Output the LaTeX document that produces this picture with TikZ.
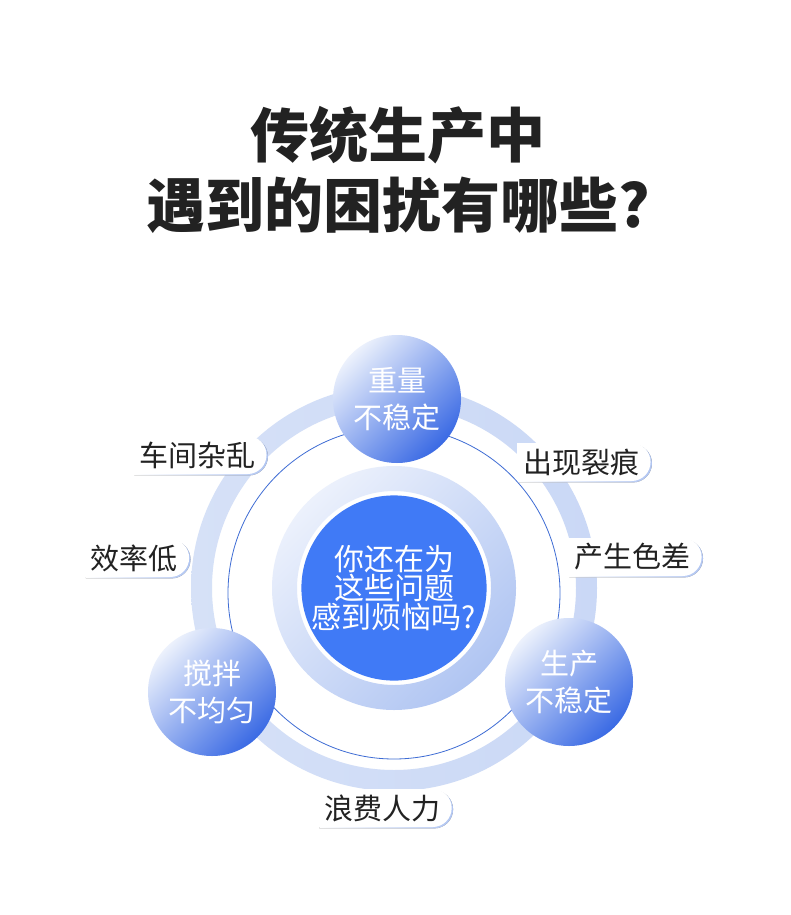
\documentclass[tikz,border=0pt]{standalone}
\usepackage{fontspec}
\setmainfont{Noto Sans CJK SC}
\usepackage{xcolor}
\usetikzlibrary{shapes.misc, shadows}

\definecolor{coreblue}{RGB}{64,122,246}
\definecolor{deepblue}{RGB}{58,106,228}
\definecolor{paleblue}{RGB}{214,225,247}
\definecolor{bandblue}{RGB}{202,216,246}
\definecolor{mistblue}{RGB}{236,241,252}
\definecolor{ringblue}{RGB}{176,197,242}
\definecolor{lineblue}{RGB}{62,108,212}
\definecolor{inkgray}{RGB}{34,34,34}

\tikzset{
  issue/.style={circle, minimum size=128pt, inner sep=0pt,
    top color=mistblue, bottom color=deepblue, shading angle=45,
    text=white, align=center, font=\fontsize{29}{37}\selectfont},
  tag/.style={rounded rectangle, rounded rectangle left arc=none,
    fill=white, minimum height=38pt, inner xsep=6pt, text=inkgray,
    font=\fontsize{29}{30}\selectfont,
    drop shadow={shadow xshift=1.4pt, shadow yshift=-1.4pt, opacity=1,
      left color=white, right color=ringblue}},
}

\begin{document}
\begin{tikzpicture}[x=1pt, y=-1pt]
  \useasboundingbox[fill=white] (0,0) rectangle (790,915);

  % title
  \node[text=inkgray, align=center, font=\fontsize{59}{70}\selectfont\bfseries] (title) at (398,170)
    {传统生产中\\遇到的困扰有哪些?};

  % rings
  \path[left color=paleblue, right color=bandblue, even odd rule]
    (394,588) circle[radius=203] circle[radius=182];
  \draw[lineblue, line width=0.8pt] (394,593) circle[radius=166];
  \path[top color=mistblue, bottom color=ringblue, shading angle=45, even odd rule]
    (394,588) circle[radius=122] circle[radius=97];
  \node[circle, minimum size=180pt, inner sep=0pt, fill=coreblue, text=white, align=center,
    font=\fontsize{30}{29}\selectfont] (core) at (394,588)
    {你还在为\\这些问题\\感到烦恼吗?};

  % problems
  \node[issue] (weight) at (397,399) {重量\\不稳定};
  \node[issue] (mixing) at (212,692) {搅拌\\不均匀};
  \node[issue] (output) at (569,682) {生产\\不稳定};

  % tags
  \node[tag] (mess) at (197,455) {车间杂乱};
  \node[tag] (lowrate) at (134,558) {效率低};
  \node[tag] (crack) at (581,462) {出现裂痕};
  \node[tag] (tint) at (632,557) {产生色差};
  \node[tag] (labor) at (382,808) {浪费人力};
\end{tikzpicture}
\end{document}
